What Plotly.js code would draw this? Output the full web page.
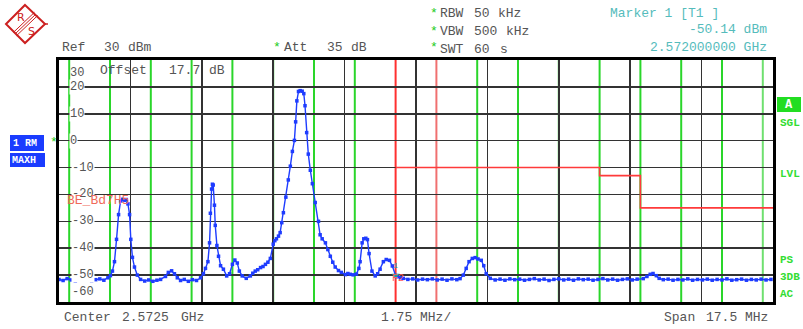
<!DOCTYPE html>
<html>
<head>
<meta charset="utf-8">
<script src="https://cdn.plot.ly/plotly-3.0.1.min.js"></script>
<style>html,body{margin:0;padding:0;background:#fff;}#chart{width:803px;height:329px;}</style>
</head>
<body>
<div id="chart"></div>
<script>
// ---- data (frequency in MHz, level in dBm) ----
const freqMHz = [
2563.75,2563.85,2563.95,2564.05,2564.15,2564.25,2564.35,2564.45,2564.55,2564.65,2564.75,2564.85,2564.95,2565.01,
2565.06,2565.11,2565.16,2565.21,2565.26,2565.31,2565.35,2565.40,2565.44,2565.48,2565.51,2565.55,2565.60,2565.67,
2565.75,2565.85,2565.95,2566.05,2566.15,2566.24,2566.36,2566.43,2566.51,2566.58,2566.65,2566.73,2566.82,2566.92,2567.02,2567.12,
2567.22,2567.29,2567.34,2567.40,2567.44,2567.46,2567.49,2567.51,2567.53,2567.56,2567.58,2567.62,2567.66,2567.71,2567.78,2567.86,
2567.93,2568.00,2568.06,2568.12,2568.17,2568.24,2568.34,2568.44,2568.50,2568.56,2568.62,2568.69,2568.75,2568.81,2568.87,2568.93,
2569.00,2569.04,2569.08,2569.13,2569.17,2569.21,2569.25,2569.31,2569.37,2569.42,2569.47,2569.52,2569.55,2569.58,2569.62,2569.66,
2569.71,2569.75,2569.78,2569.82,2569.86,2569.91,2569.96,2570.03,2570.11,2570.15,2570.20,2570.28,2570.34,2570.40,2570.46,2570.52,
2570.60,2570.67,2570.77,2570.83,2570.89,2570.96,2571.04,2571.10,2571.13,2571.18,2571.22,2571.27,2571.31,2571.35,2571.42,2571.50,
2571.56,2571.62,2571.70,2571.77,2571.85,2571.92,2572.00,2572.06,2572.12,2572.19,
2572.30,2572.42,2572.54,2572.66,2572.78,2572.90,2573.02,2573.14,2573.26,2573.38,2573.50,2573.58,2573.66,2573.73,2573.80,2573.88,
2573.95,2574.02,2574.10,2574.16,2574.22,2574.32,2574.44,2574.56,2574.68,2574.80,2574.92,2575.04,2575.16,2575.28,2575.40,2575.52,
2575.64,2575.76,2575.88,2576.00,2576.12,2576.24,2576.36,2576.48,2576.60,2576.72,2576.84,2576.96,2577.08,2577.20,2577.32,2577.44,
2577.56,2577.68,2577.80,2577.92,2578.07,2578.16,2578.24,2578.31,2578.39,2578.46,2578.56,2578.68,2578.80,2578.92,2579.04,2579.16,
2579.28,2579.40,2579.52,2579.64,2579.76,2579.88,2580.00,2580.12,2580.24,2580.36,2580.48,2580.60,2580.72,2580.84,2580.96,2581.08,2581.20
];
const levelDBm = [
-51.6,-52.0,-51.3,-51.8,-52.2,-51.5,-51.9,-51.2,-52.1,-51.7,-51.4,-51.9,-51.0,-50.2,
-48.5,-45.0,-36.7,-27.5,-22.4,-21.8,-22.2,-21.9,-23.5,-27.5,-36.7,-43.4,-47.0,-50.0,
-51.6,-52.2,-51.8,-52.3,-51.9,-51.6,-50.5,-49.0,-48.4,-49.5,-51.0,-52.0,-51.6,-52.3,-51.7,-52.0,
-51.0,-49.5,-47.5,-45.0,-38.0,-27.0,-18.0,-16.2,-16.5,-24.0,-31.5,-39.0,-43.0,-46.5,-47.8,-50.3,
-49.5,-46.0,-44.4,-45.5,-48.5,-50.3,-51.2,-50.3,-49.3,-48.5,-48.0,-47.2,-46.8,-46.0,-45.2,-43.8,
-38.5,-37.2,-36.5,-35.5,-34.2,-30.5,-26.8,-21.0,-14.6,-9.5,-4.0,0.1,7.0,14.8,18.3,18.6,
18.4,17.5,13.0,3.0,-5.0,-11.0,-16.0,-23.0,-30.0,-35.0,-36.5,-38.0,-40.5,-43.0,-45.2,-47.0,
-48.3,-49.0,-49.8,-49.4,-49.7,-49.9,-49.6,-47.5,-45.0,-38.0,-36.5,-36.3,-36.8,-42.0,-48.5,-50.3,
-49.5,-47.8,-45.0,-44.2,-44.5,-46.6,-50.14,-50.6,-51.0,-51.2,
-51.6,-51.4,-51.8,-51.5,-51.7,-51.4,-51.8,-51.5,-51.9,-51.4,-51.7,-51.3,-50.0,-47.5,-45.0,-43.8,
-43.5,-44.0,-44.5,-46.5,-49.5,-51.2,-51.8,-51.5,-51.9,-51.4,-51.7,-51.5,-51.9,-51.6,-51.3,-51.8,
-51.5,-52.0,-51.6,-51.4,-51.8,-51.5,-51.9,-51.4,-51.7,-51.5,-51.9,-51.6,-51.3,-51.8,-51.5,-51.9,
-51.6,-51.4,-51.8,-51.5,-51.3,-50.5,-49.7,-49.4,-50.2,-51.2,-51.7,-51.5,-51.9,-51.6,-51.8,-51.4,
-51.9,-51.6,-51.8,-51.5,-51.9,-51.6,-51.8,-51.4,-51.9,-51.7,-51.5,-51.9,-51.6,-51.8,-51.5,-51.8,-51.6
];
const limitFreq  = [2572, 2577, 2577, 2578, 2578, 2581.25];
const limitLevel = [-10, -10, -13, -13, -25, -25];
const markerFreq  = [2572.0];
const markerLevel = [-50.14];
const yTickVals = [30, 20, 10, 0, -10, -20, -30, -40, -50, -60];
const greenLineFreqs = [2564,2565,2566,2567,2568,2569,2570,2571,2574,2575,2576,2577,2578,2579,2580,2581];
const f1Freq = 2572, f2Freq = 2573;
const centerMHz = 2572.5, spanMHz = 17.5;

// ---- layout helpers (pixel -> paper) ----
const L = 59, R = 773, T = 60, B = 302;
const px = x => (x - L) / (R - L);
const py = y => (B - y) / (B - T);
const MONO = "'Liberation Mono', 'DejaVu Sans Mono', monospace";
const GRAY = '#555555';
function txt(s, x, y, o) {
  o = o || {};
  return Object.assign({
    text: s, xref: 'paper', yref: 'paper', x: px(x), y: py(y),
    xanchor: 'left', yanchor: 'middle', showarrow: false, borderpad: 0,
    font: {family: MONO, size: 13, color: GRAY}
  }, o);
}
const STAR = {family: MONO, size: 13, color: '#22cc22'};
const GREEN_LBL = {family: MONO, size: 11, color: '#33dd33', weight: 'bold'};

const ann = [];
yTickVals.forEach(v => {
  ann.push({
    text: String(v), xref: 'paper', yref: 'y', x: px(v < 0 ? 71 : 69), y: v,
    yshift: v === 30 ? -13 : (v === -60 ? 10 : 0),
    xanchor: 'left', yanchor: 'middle', showarrow: false, borderpad: 0,
    bgcolor: (v === 30 || v === -60) ? 'rgba(0,0,0,0)' : '#ffffff',
    font: {family: MONO, size: 12, color: GRAY}
  });
});
ann.push(
  txt('Ref', 61, 48), txt('30', 103, 48), txt('dBm', 127, 48),
  txt('*', 272, 47, {font: STAR}), txt('Att', 283, 48), txt('35', 326, 48), txt('dB', 350, 48),
  txt('Offset', 99, 71), txt('17.7', 168, 71), txt('dB', 208, 71),
  txt('*', 429, 13, {font: STAR}), txt('RBW', 439, 14), txt('50', 473, 14), txt('kHz', 497, 14),
  txt('*', 429, 31, {font: STAR}), txt('VBW', 439, 32), txt('500', 473, 32), txt('kHz', 505, 32),
  txt('*', 429, 48, {font: STAR}), txt('SWT', 439, 49), txt('60', 473, 49), txt('s', 499, 49),
  txt('Marker 1 [T1 ]', 609, 13, {font: {family: MONO, size: 13, color: '#55bcbc'}}),
  txt('-50.14 dBm', 768, 30, {xanchor: 'right', font: {family: MONO, size: 13, color: '#55bcbc'}}),
  txt('2.572000000 GHz', 768, 47, {xanchor: 'right', font: {family: MONO, size: 13, color: '#55bcbc'}}),
  txt('Center', 63, 317), txt(String(centerMHz / 1000), 121, 317), txt('GHz', 180, 317),
  txt(String(spanMHz / 10), 380, 317), txt('MHz/', 419, 317),
  txt('Span', 663, 317), txt(String(spanMHz), 705, 317), txt('MHz', 744, 317),
  txt('BE_Bd7H5', 66, 200, {font: {family: MONO, size: 13, color: '#f06a5a'}}),
  txt('F2', 391, 278, {font: {family: MONO, size: 10, color: '#ff5a5a'}}),
  txt('1 RM', 12, 143, {font: {family: MONO, size: 10, color: '#ffffff', weight: 'bold'}}),
  txt('MAXH', 11, 160, {font: {family: MONO, size: 10, color: '#ffffff', weight: 'bold'}}),
  txt('*', 49, 142, {font: STAR}),
  txt('A', 789, 105, {xanchor: 'center', font: {family: MONO, size: 12, color: '#ffffff', weight: 'bold'}}),
  txt('SGL', 779, 123, {font: GREEN_LBL}), txt('LVL', 779, 174, {font: GREEN_LBL}),
  txt('PS', 779, 260, {font: GREEN_LBL}), txt('3DB', 779, 277, {font: GREEN_LBL}),
  txt('AC', 779, 294, {font: GREEN_LBL}),
  txt('R', 21, 17, {xanchor: 'center', font: {family: 'DejaVu Sans', size: 11, color: '#cc2020'}}),
  txt('S', 31, 32, {xanchor: 'center', font: {family: 'DejaVu Sans', size: 11, color: '#cc2020'}})
);

const shapes = [];
greenLineFreqs.forEach(f => {
  shapes.push({type: 'line', xref: 'x', yref: 'paper', x0: f, x1: f, y0: 0, y1: 1, layer: 'between',
    line: {color: f === 2581 ? '#6fe06f' : '#2ad62a', width: 2}});
});
shapes.push({type: 'line', xref: 'x', yref: 'paper', x0: f1Freq, x1: f1Freq, y0: 0, y1: 1, layer: 'between',
  line: {color: '#ff3030', width: 2}});
shapes.push({type: 'line', xref: 'x', yref: 'paper', x0: f2Freq, x1: f2Freq, y0: 0, y1: 1, layer: 'between',
  line: {color: '#f07070', width: 2}});
function rectPx(x0, y0, x1, y1, color) {
  return {type: 'rect', xref: 'paper', yref: 'paper', x0: px(x0), x1: px(x1), y0: py(y1), y1: py(y0),
    fillcolor: color, line: {width: 0}, layer: 'below'};
}
shapes.push(rectPx(10, 135, 44, 151, '#1a3cff'));
shapes.push(rectPx(10, 153, 45, 167, '#1a3cff'));
shapes.push(rectPx(777, 97, 801, 112, '#22dd22'));
// R&S logo
const P = (x, y) => px(x).toFixed(5) + ',' + py(y).toFixed(5);
shapes.push({type: 'path', xref: 'paper', yref: 'paper',
  path: 'M' + P(25, 5) + ' L' + P(45, 24) + ' L' + P(25, 43) + ' L' + P(6, 24) + ' Z',
  line: {color: '#cc2020', width: 2}, fillcolor: 'rgba(0,0,0,0)', layer: 'above'});
[-1.6, 0, 1.6].forEach(d => {
  shapes.push({type: 'path', xref: 'paper', yref: 'paper',
    path: 'M' + P(36 + d, 14 + d) + ' L' + P(15 + d, 34 + d),
    line: {color: '#cc2020', width: 1}, layer: 'above'});
});
shapes.push({type: 'line', xref: 'paper', yref: 'paper', x0: px(45), x1: px(48), y0: py(24), y1: py(24),
  line: {color: '#cc2020', width: 1.5}, layer: 'above'});

const traces = [
  {x: limitFreq, y: limitLevel, type: 'scatter', mode: 'lines',
   line: {color: '#ff3a3a', width: 1.6}, hoverinfo: 'skip'},
  {x: freqMHz, y: levelDBm, type: 'scatter', mode: 'lines+markers',
   line: {color: '#1e3cff', width: 1.4},
   marker: {color: '#1e3cff', size: 3.5, symbol: 'square'}},
  {x: markerFreq, y: markerLevel, type: 'scatter', mode: 'markers+text',
   text: ['1'], textposition: 'top center',
   textfont: {family: MONO, size: 8, color: '#1aa0a0'},
   marker: {color: '#1aa0a0', size: 7, symbol: 'triangle-down'}}
];

const axBase = {showticklabels: false, ticks: '', zeroline: false, showline: true, linewidth: 3,
  linecolor: '#000000', mirror: true, showgrid: true, gridcolor: '#333333', gridwidth: 1.6};
const layout = {
  width: 803, height: 329,
  margin: {l: L, r: 803 - R, t: T, b: 329 - B, pad: 0},
  paper_bgcolor: '#ffffff', plot_bgcolor: '#ffffff',
  showlegend: false,
  xaxis: Object.assign({}, axBase, {range: [centerMHz - spanMHz / 2, centerMHz + spanMHz / 2],
    tick0: centerMHz - spanMHz / 2, dtick: spanMHz / 10}),
  yaxis: Object.assign({}, axBase, {range: [-60, 30], tick0: -60, dtick: 10}),
  shapes: shapes,
  annotations: ann
};
Plotly.newPlot('chart', traces, layout, {staticPlot: true, displayModeBar: false});
</script>
</body>
</html>
